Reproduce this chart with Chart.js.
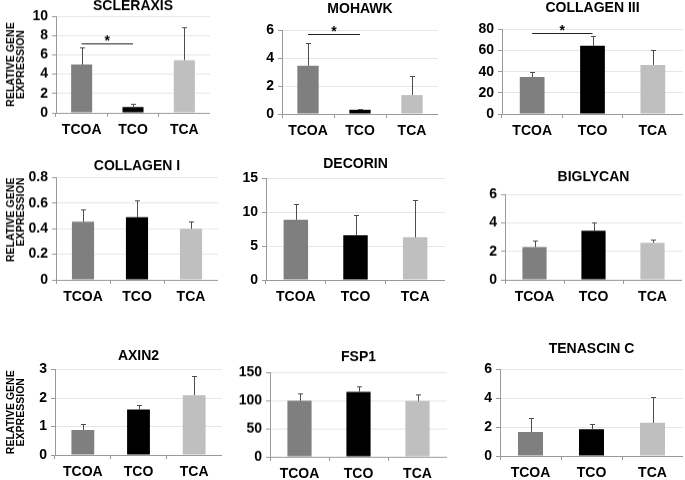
<!DOCTYPE html>
<html>
<head>
<meta charset="utf-8">
<script src="https://cdn.jsdelivr.net/npm/chart.js@4.4.1/dist/chart.umd.min.js"></script>
<style>
  body { margin: 0; background: #fff; }
  #wrap { position: relative; width: 685px; height: 480px; overflow: hidden; background: #fff; }
  #wrap canvas { position: absolute; }
</style>
</head>
<body>
<div id="wrap"></div>
<script>
// data
var groups = ['TCOA', 'TCO', 'TCA'];
var genes = ['SCLERAXIS', 'MOHAWK', 'COLLAGEN III', 'COLLAGEN I', 'DECORIN', 'BIGLYCAN', 'AXIN2', 'FSP1', 'TENASCIN C'];
var means = [
  [5.0, 0.6, 5.45],
  [3.45, 0.3, 1.35],
  [35, 64.5, 46.5],
  [0.455, 0.49, 0.40],
  [8.9, 6.6, 6.3],
  [2.3, 3.45, 2.6],
  [0.88, 1.6, 2.1],
  [100, 116, 99.5],
  [1.66, 1.86, 2.3]
];
var errors = [
  [1.75, 0.3, 3.4],
  [1.65, 0.08, 1.35],
  [4.5, 9.5, 14],
  [0.1, 0.13, 0.06],
  [2.4, 3.0, 5.5],
  [0.45, 0.55, 0.25],
  [0.22, 0.17, 0.68],
  [13, 9, 11],
  [1.0, 0.35, 1.8]
];
var yMax = [10, 6, 80, 0.8, 15, 6, 3, 150, 6];
var yStep = [2, 2, 20, 0.2, 5, 2, 1, 50, 2];
var sigLevel = [7.2, 5.7, 77, null, null, null, null, null, null];
var yTitle = ['RELATIVE GENE', 'EXPRESSION'];

// layout: plot area [left, top, right, bottom] and title centre y
var frames = [
  [56, 16, 210, 112.5, 6],
  [282, 29.5, 438, 114, 8.5],
  [502, 29.5, 683, 114, 8],
  [56, 177.5, 218, 279.5, 166],
  [266, 178.5, 445, 280, 164],
  [505, 194, 682, 279.5, 177],
  [55, 369.5, 222, 455, 356],
  [270, 372.5, 447, 456.5, 357],
  [500, 369.5, 683, 456, 349]
];
var barColors = ['#7f7f7f', '#000000', '#bfbfbf'];

Chart.defaults.font.family = "'Liberation Sans', Arial, sans-serif";
Chart.defaults.color = '#000';

var errorBars = {
  id: 'errorBars',
  afterDatasetsDraw: function (chart) {
    var i = chart.options.plugins.errorBars.panel;
    var ctx = chart.ctx;
    var meta = chart.getDatasetMeta(0);
    var y = chart.scales.y;
    ctx.save();
    ctx.strokeStyle = '#4d4d4d';
    ctx.lineWidth = 1;
    meta.data.forEach(function (bar, k) {
      var x = Math.round(bar.x) + 0.5;
      var top = Math.round(y.getPixelForValue(means[i][k] + errors[i][k])) + 0.5;
      ctx.beginPath();
      ctx.moveTo(x, bar.y);
      ctx.lineTo(x, top);
      ctx.moveTo(x - 2.5, top);
      ctx.lineTo(x + 2.5, top);
      ctx.stroke();
    });
    if (sigLevel[i] != null) {
      var ly = Math.round(y.getPixelForValue(sigLevel[i])) + 0.5;
      var x0 = meta.data[0].x, x1 = meta.data[1].x;
      ctx.strokeStyle = '#222';
      ctx.beginPath();
      ctx.moveTo(x0, ly);
      ctx.lineTo(x1, ly);
      ctx.stroke();
      ctx.fillStyle = '#000';
      ctx.font = "bold 14px 'Liberation Sans', Arial, sans-serif";
      ctx.textAlign = 'center';
      ctx.textBaseline = 'alphabetic';
      ctx.fillText('*', (x0 + x1) / 2, ly + 1);
    }
    ctx.restore();
  }
};

var wrap = document.getElementById('wrap');
genes.forEach(function (gene, i) {
  var f = frames[i];
  var leftCol = i % 3 === 0;
  var cl = leftCol ? 0 : f[0] - 45;
  var ct = f[4] - 10;
  var cw = Math.min(f[2], 685) - cl;
  var ch = f[3] + 26 - ct;
  var yw = f[0] - cl;
  var xh = 26;
  var padBottom = f[1] - ct - 2 - 16.8;

  var cv = document.createElement('canvas');
  cv.width = cw;
  cv.height = ch;
  cv.style.left = cl + 'px';
  cv.style.top = ct + 'px';
  cv.style.width = cw + 'px';
  cv.style.height = ch + 'px';
  wrap.appendChild(cv);

  new Chart(cv, {
    type: 'bar',
    data: {
      labels: groups,
      datasets: [{
        data: means[i],
        backgroundColor: barColors,
        borderWidth: 0,
        barPercentage: 0.41,
        categoryPercentage: 1
      }]
    },
    options: {
      responsive: false,
      animation: false,
      devicePixelRatio: 1,
      events: [],
      layout: { padding: 0 },
      plugins: {
        legend: { display: false },
        tooltip: { enabled: false },
        title: {
          display: true,
          fullSize: false,
          text: gene,
          color: '#000',
          font: { size: 14, weight: 'bold' },
          padding: { top: 2, bottom: padBottom }
        },
        errorBars: { panel: i }
      },
      scales: {
        x: {
          afterFit: function (s) { s.height = xh; },
          border: { color: '#9a9a9a', width: 1 },
          grid: { offset: true, drawOnChartArea: false, tickLength: 4, tickColor: '#9a9a9a' },
          ticks: { color: '#000', font: { size: 14, weight: 'bold' }, padding: 5 }
        },
        y: {
          min: 0,
          max: yMax[i],
          afterFit: function (s) { s.width = yw; },
          border: { color: '#9a9a9a', width: 1 },
          grid: { color: '#e6e6e6', tickLength: 4, tickColor: '#9a9a9a' },
          ticks: { stepSize: yStep[i], autoSkip: false, color: '#000', font: { size: 14, weight: 'bold' }, padding: 4 },
          title: {
            display: leftCol,
            text: yTitle,
            color: '#000',
            align: i === 3 ? 'end' : 'center',
            font: { size: 10.5, weight: 'bold', lineHeight: 0.95 },
            padding: { top: 6, bottom: 0 }
          }
        }
      }
    },
    plugins: [errorBars]
  });
});
</script>
</body>
</html>
